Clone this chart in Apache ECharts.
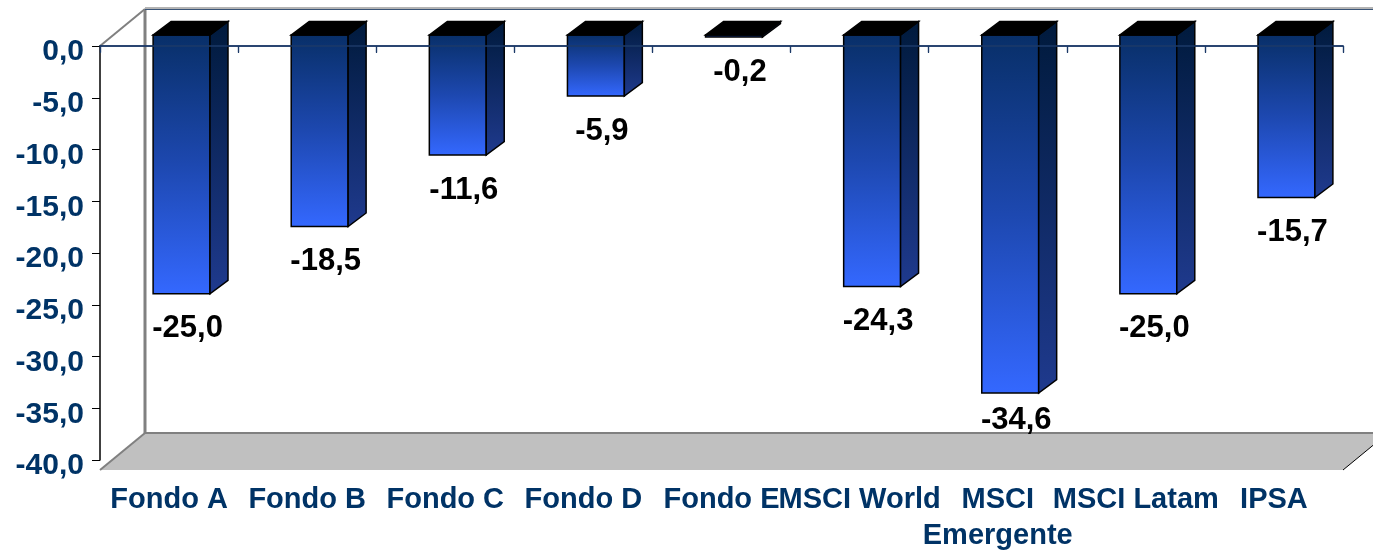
<!DOCTYPE html>
<html>
<head>
<meta charset="utf-8">
<script src="https://cdn.jsdelivr.net/npm/echarts@6/dist/echarts.min.js"></script>
<style>html,body{margin:0;padding:0;background:#fff;}#c{width:1373px;height:554px;}</style>
</head>
<body>
<div id="c"></div>
<script>
const categories = ['Fondo A', 'Fondo B', 'Fondo C', 'Fondo D', 'Fondo E', 'MSCI World', 'MSCI\nEmergente', 'MSCI Latam', 'IPSA'];
const values = [-25.0, -18.5, -11.6, -5.9, -0.2, -24.3, -34.6, -25.0, -15.7];
const yTicks = [0, -5, -10, -15, -20, -25, -30, -35, -40];
const yMin = -40, yMax = 0, yStep = 5;

const FONT = '"Liberation Sans", Arial, sans-serif';
const AXIS_BLUE = '#1c3a68';
const LABEL_BLUE = '#003366';
const GRID = { left: 100, top: 46, right: 30, bottom: 84 };
const W = 1373, H = 554;
const gl = GRID.left, gt = GRID.top, gr = W - GRID.right, gb = H - GRID.bottom;
const WALL = [45, -37];

const fmt = v => v.toFixed(1).replace('.', ',');

const chart = echarts.init(document.getElementById('c'), null, { renderer: 'canvas' });

function renderBar(params, api) {
  const idx = api.value(0), v = api.value(1);
  const p0 = api.coord([idx, 0]);
  const p1 = api.coord([idx, v]);
  const bw = api.size([1, 0])[0];
  const hw = bw * 0.206;
  const cx = p0[0] + 12.5;
  const T = p0[1] - 11, B = p1[1] - 11;
  const L = cx - hw, R = cx + hw;
  const dx = 18, dy = -13.5;
  const floorBack = gb + WALL[1];
  const labelY = Math.min(B + 35, floorBack - 13);
  const children = [];
  children.push({
    type: 'rect',
    shape: { x: L, y: T, width: R - L, height: Math.max(B - T, 0.5) },
    style: {
      fill: new echarts.graphic.LinearGradient(0, 0, 0, 1, [
        { offset: 0, color: '#082f68' },
        { offset: 0.5, color: '#1d48b0' },
        { offset: 1, color: '#3468ff' }
      ]),
      stroke: '#000', lineWidth: 1.5
    }
  });
  children.push({
    type: 'polygon',
    shape: { points: [[R, T], [R + dx, T + dy], [R + dx, B + dy], [R, B]] },
    style: {
      fill: new echarts.graphic.LinearGradient(0, 0, 0, 1, [
        { offset: 0, color: '#001a3c' },
        { offset: 1, color: '#1f3a8e' }
      ]),
      stroke: '#000', lineWidth: 1.5
    }
  });
  children.push({
    type: 'polygon',
    shape: { points: [[L, T], [R, T], [R + dx, T + dy], [L + dx, T + dy]] },
    style: { fill: '#000', stroke: '#000', lineWidth: 1.5 }
  });
  children.push({
    type: 'text',
    style: {
      text: fmt(v), x: cx + 6, y: labelY,
      textAlign: 'center', textVerticalAlign: 'middle',
      font: 'bold 31px ' + FONT, fill: '#000'
    }
  });
  return { type: 'group', children: children };
}

const deco = [
  { type: 'polygon', z: 0, shape: { points: [[gl, gb], [gl + WALL[0], gb + WALL[1]], [gr + WALL[0], gb + WALL[1]], [gr, gb]] }, style: { fill: '#c0c0c0' } },
  { type: 'line', z: 0, shape: { x1: gl + WALL[0], y1: gb + WALL[1], x2: gr + WALL[0], y2: gb + WALL[1] }, style: { stroke: '#808080', lineWidth: 2 } },
  { type: 'line', z: 0, shape: { x1: gl, y1: gb, x2: gl + WALL[0], y2: gb + WALL[1] }, style: { stroke: '#808080', lineWidth: 2 } },
  { type: 'line', z: 0, shape: { x1: gr, y1: gb, x2: gr + WALL[0], y2: gb + WALL[1] }, style: { stroke: '#000', lineWidth: 1 } },
  { type: 'line', z: 0, shape: { x1: gl + WALL[0], y1: gt + WALL[1], x2: gl + WALL[0], y2: gb + WALL[1] }, style: { stroke: '#808080', lineWidth: 3 } },
  { type: 'line', z: 0, shape: { x1: gl, y1: gt, x2: gl + WALL[0], y2: gt + WALL[1] }, style: { stroke: '#808080', lineWidth: 2 } },
  { type: 'line', z: 0, shape: { x1: gl + WALL[0], y1: gt + WALL[1] - 1, x2: W, y2: gt + WALL[1] - 1 }, style: { stroke: '#9a9a9a', lineWidth: 1.5 } },
  { type: 'line', z: 0, shape: { x1: gl + WALL[0], y1: gt + WALL[1] + 0.5, x2: W, y2: gt + WALL[1] + 0.5 }, style: { stroke: '#3a5478', lineWidth: 1.2 } }
];

chart.setOption({
  animation: false,
  backgroundColor: '#fff',
  grid: { left: GRID.left, top: GRID.top, right: GRID.right, bottom: GRID.bottom, containLabel: false },
  graphic: { elements: deco },
  xAxis: [
    {
      type: 'category', data: categories, position: 'bottom', z: 3,
      axisLine: { lineStyle: { color: AXIS_BLUE, width: 1.5 } },
      axisTick: { show: true, length: 7, lineStyle: { color: AXIS_BLUE, width: 1.2 } },
      axisLabel: { interval: 0, margin: 22, color: LABEL_BLUE, fontFamily: FONT, fontWeight: 'bold', fontSize: 29, lineHeight: 36 },
      splitLine: { show: false }
    },
    {
      type: 'category', data: categories, position: 'top', z: 10,
      axisLine: { lineStyle: { color: AXIS_BLUE, width: 1.5 } },
      axisTick: { show: true, inside: true, length: 6, lineStyle: { color: AXIS_BLUE, width: 1.2 } },
      axisLabel: { show: false },
      splitLine: { show: false }
    }
  ],
  yAxis: {
    type: 'value', min: yMin, max: yMax, interval: yStep, z: 3,
    axisLine: { show: true, lineStyle: { color: '#000', width: 1.5 } },
    axisTick: { show: true, length: 8, lineStyle: { color: '#000', width: 1 } },
    axisLabel: { show: false },
    splitLine: { show: false }
  },
  series: [{
    type: 'custom', z: 5, xAxisIndex: 0, yAxisIndex: 0,
    renderItem: renderBar,
    encode: { x: 0, y: 1 },
    data: values.map((v, i) => [i, v])
  }]
});

// y tick labels placed through the axis scale (slightly below each tick, as in the original)
const yLabelEls = yTicks.map(t => {
  const py = chart.convertToPixel({ yAxisIndex: 0 }, t);
  return {
    type: 'text', z: 3,
    style: {
      text: fmt(t), x: gl - 16, y: py + 6,
      textAlign: 'right', textVerticalAlign: 'middle',
      font: 'bold 30px ' + FONT, fill: LABEL_BLUE
    }
  };
});
chart.setOption({ graphic: { elements: deco.concat(yLabelEls) } });
</script>
</body>
</html>
